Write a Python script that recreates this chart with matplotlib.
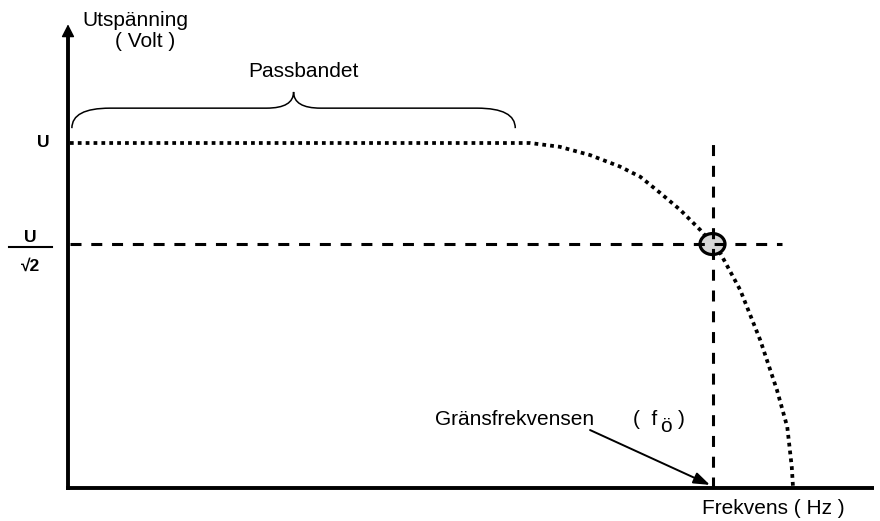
import matplotlib.pyplot as plt
import numpy as np
from matplotlib.patches import Ellipse, PathPatch
from matplotlib.path import Path

plt.rcParams['font.family'] = ['Liberation Sans', 'DejaVu Sans']

# frequency relative to the cutoff frequency, voltage relative to U
freq = [0.003, 0.694, 0.717, 0.763, 0.810, 0.856, 0.888, 0.919, 0.950,
        0.981, 1.000, 1.012, 1.043, 1.074, 1.100, 1.116, 1.123, 1.125]
volt = [1.000, 1.000, 1.000, 0.989, 0.965, 0.932, 0.902, 0.855, 0.806,
        0.748, 0.707, 0.681, 0.574, 0.429, 0.284, 0.177, 0.061, 0.000]

U_LEVEL = 1.0
CUT_LEVEL = 1 / np.sqrt(2)
F_CUT = 1.0
PASSBAND = (0.006, 0.694)

fig = plt.figure(figsize=(8.8, 5.21), dpi=100)
ax = fig.add_axes([0, 0, 1, 1])
ax.set_xlim(-68 / 644.5, 812 / 644.5)
ax.set_ylim(-33 / 345, 488 / 345)
ax.axis('off')

# axes with arrow heads
ax.plot([0, 0], [-0.006, 1.33], color='black', lw=2.8, solid_capstyle='butt')
ax.annotate('', xy=(0, 1.352), xytext=(0, 1.30),
            arrowprops=dict(arrowstyle='-|>,head_length=0.55,head_width=0.28',
                            lw=1, color='black', mutation_scale=14))
ax.plot([-0.003, 1.25], [0, 0], color='black', lw=2.8, solid_capstyle='butt')
ax.annotate('', xy=(1.265, 0), xytext=(1.22, 0),
            arrowprops=dict(arrowstyle='-|>,head_length=0.55,head_width=0.28',
                            lw=1, color='black', mutation_scale=14))

# response curve
ax.plot(freq, volt, color='black', lw=2.7, linestyle=(0, (1, 1.1)),
        dash_capstyle='butt', zorder=3)

# reference lines
ax.plot([0.003, 1.108], [CUT_LEVEL, CUT_LEVEL], color='black', lw=2.2,
        linestyle=(0, (3.6, 3.2)), zorder=4)
ax.plot([F_CUT, F_CUT], [0, 1.023], color='black', lw=2.2,
        linestyle=(0, (3.6, 3.2)), zorder=4)

# cutoff point
ax.add_patch(Ellipse((F_CUT, CUT_LEVEL), 25 / 644.5, 21 / 345,
                     facecolor='#d6d6d6', edgecolor='black', lw=2.3, zorder=3.5))

# brace over the pass band
x0, x1 = PASSBAND
xt = (x0 + x1) / 2
yb, yh, ytop = 1.043, 1.101, 1.148
d, d2 = 0.059, 0.042
verts = [(x0, yb), (x0, yh), (x0 + d, yh), (xt - d2, yh), (xt, yh), (xt, ytop),
         (xt, yh), (xt + d2, yh), (x1 - d, yh), (x1, yh), (x1, yb)]
codes = [Path.MOVETO, Path.CURVE3, Path.CURVE3, Path.LINETO, Path.CURVE3, Path.CURVE3,
         Path.CURVE3, Path.CURVE3, Path.LINETO, Path.CURVE3, Path.CURVE3]
ax.add_patch(PathPatch(Path(verts, codes), facecolor='none', edgecolor='black', lw=1.1))

# texts
fs = 15
ax.text(0.023, 1.339, 'Utspänning', fontsize=fs, ha='left', va='baseline')
ax.text(0.119, 1.278, '( Volt )', fontsize=fs, ha='center', va='baseline')
ax.text(0.366, 1.191, 'Passbandet', fontsize=fs, ha='center', va='baseline')
ax.text(0.983, -0.075, 'Frekvens ( Hz )', fontsize=fs, ha='left', va='baseline')

bfs = 12.5
ax.text(-0.039, U_LEVEL, 'U', fontsize=bfs, fontweight='bold', ha='center', va='center')
ax.plot([-0.0915, -0.0248], [0.699, 0.699], color='black', lw=1.5)
ax.text(-0.058, 0.712, 'U', fontsize=bfs, fontweight='bold', ha='center', va='baseline')
ax.text(-0.058, 0.630, '√2', fontsize=bfs, fontweight='bold', ha='center', va='baseline')

ax.text(0.569, 0.183, 'Gränsfrekvensen', fontsize=fs, ha='left', va='baseline')
ax.text(0.877, 0.183, '(  f', fontsize=fs, ha='left', va='baseline')
ax.text(0.919, 0.162, 'ö', fontsize=fs, ha='left', va='baseline')
ax.text(0.947, 0.183, ')', fontsize=fs, ha='left', va='baseline')
ax.annotate('', xy=(0.996, 0.009), xytext=(0.810, 0.168),
            arrowprops=dict(arrowstyle='-|>,head_length=0.7,head_width=0.25',
                            lw=1.4, color='black', mutation_scale=14,
                            shrinkA=0, shrinkB=0))

fig.savefig('out.png', dpi=100)
